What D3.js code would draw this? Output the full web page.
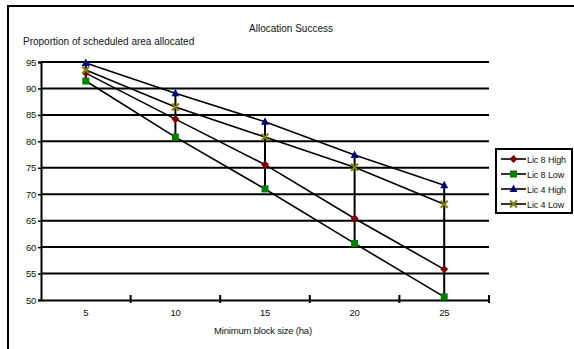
<!DOCTYPE html>
<html>
<head>
<meta charset="utf-8">
<script src="https://cdnjs.cloudflare.com/ajax/libs/d3/7.8.5/d3.min.js"></script>
<style>
  body { margin: 0; background: #fff; }
  svg { display: block; font-family: "Liberation Sans", Arial, sans-serif; }
</style>
</head>
<body>
<div id="chart"></div>
<script>
var categories = [5, 10, 15, 20, 25];
var yTicks = [50, 55, 60, 65, 70, 75, 80, 85, 90, 95];
var seriesNames = ["Lic 8 High", "Lic 8 Low", "Lic 4 High", "Lic 4 Low"];
var lic8High = [92.9, 84.2, 75.6, 65.4, 55.8];
var lic8Low = [91.4, 80.8, 71.0, 60.7, 50.6];
var lic4High = [94.8, 89.1, 83.7, 77.4, 71.7];
var lic4Low = [93.5, 86.5, 80.8, 75.1, 68.1];

var seriesValues = [lic8High, lic8Low, lic4High, lic4Low];
var colors = ["#800000", "#008000", "#000080", "#808000"];

var width = 574, height = 349;
var plot = { left: 41, right: 489, top: 62, bottom: 300 };

var svg = d3.select("#chart")
    .append("svg")
        .attr("width", width)
        .attr("height", height);

// outer frame, clipped on right and bottom by the window
svg.append("rect")
    .attr("x", 8)
    .attr("y", 6)
    .attr("width", 600)
    .attr("height", 400)
    .style("fill", "none")
    .style("stroke", "black")
    .style("stroke-width", 2);

var x = d3.scaleBand().domain(categories).range([plot.left, plot.right]).padding(0);
var y = d3.scaleLinear().domain([50, 95]).range([plot.bottom, plot.top]);

// gridlines
svg.append("g").selectAll("line")
    .data(yTicks.slice(1))
    .enter()
    .append("line")
    .attr("x1", plot.left)
    .attr("x2", plot.right)
    .attr("y1", function(d) { return y(d); })
    .attr("y2", function(d) { return y(d); })
    .style("stroke", "black")
    .style("stroke-width", 2);

// y axis
var yAxis = svg.append("g")
    .attr("transform", "translate(" + plot.left + ",0)")
    .call(d3.axisLeft(y).tickValues(yTicks).tickSize(3).tickPadding(2));
yAxis.select(".domain").style("stroke-width", 2);
yAxis.selectAll(".tick line").style("stroke-width", 1.5);
yAxis.selectAll("text").attr("font-size", "9.5px").attr("font-family", "Liberation Sans, Arial, sans-serif").attr("letter-spacing", "-0.3px").attr("fill", "#111");

// x axis
var xAxis = svg.append("g")
    .attr("transform", "translate(0," + plot.bottom + ")")
    .call(d3.axisBottom(x).tickSize(0).tickPadding(9));
xAxis.select(".domain").style("stroke-width", 2);
xAxis.selectAll("text").attr("font-size", "9.5px").attr("font-family", "Liberation Sans, Arial, sans-serif").attr("letter-spacing", "-0.3px").attr("fill", "#111");

var bounds = categories.map(function(c) { return x(c) + x.step(); });
svg.append("g").selectAll("line")
    .data(bounds)
    .enter()
    .append("line")
    .attr("x1", function(d) { return d; })
    .attr("x2", function(d) { return d; })
    .attr("y1", plot.bottom - 5)
    .attr("y2", plot.bottom + 3)
    .style("stroke", "black")
    .style("stroke-width", 2);

// high-low lines
var hiLo = svg.append("g");
hiLo.selectAll("line")
    .data(categories)
    .enter()
    .append("line")
    .attr("x1", function(d) { return x(d) + x.bandwidth() / 2; })
    .attr("x2", function(d) { return x(d) + x.bandwidth() / 2; })
    .attr("y1", function(d, i) { return y(d3.max(seriesValues, function(s) { return s[i]; })); })
    .attr("y2", function(d, i) { return y(d3.min(seriesValues, function(s) { return s[i]; })); })
    .style("stroke", "black")
    .style("stroke-width", 2);

// series lines
var line = d3.line()
    .x(function(d, i) { return x(categories[i]) + x.bandwidth() / 2; })
    .y(function(d) { return y(d); });

svg.append("g").selectAll("path")
    .data(seriesValues)
    .enter()
    .append("path")
    .attr("d", line)
    .style("fill", "none")
    .style("stroke", "black")
    .style("stroke-width", 1.6);

// markers
var markerPaths = [
    "M0,-4L4,0L0,4L-4,0Z",
    "M-3.5,-3.5H3.5V3.5H-3.5Z",
    "M0,-4.5L4,3L-4,3Z",
    "M-3.5,-3.5L3.5,3.5M-3.5,3.5L3.5,-3.5"
];
var drawMarker = function(sel, k) {
    var p = sel.append("path").attr("d", markerPaths[k]);
    if (k === 3) {
        p.style("stroke", colors[k]).style("stroke-width", 2).style("fill", "none");
    } else {
        p.style("fill", colors[k]);
    }
};

seriesValues.forEach(function(vals, k) {
    var g = svg.append("g");
    vals.forEach(function(v, i) {
        var m = g.append("g")
            .attr("transform", "translate(" + (x(categories[i]) + x.bandwidth() / 2) + "," + y(v) + ")");
        drawMarker(m, k);
    });
});

// titles
svg.append("text")
    .attr("x", 291)
    .attr("y", 32)
    .style("text-anchor", "middle")
    .attr("font-size", "10px")
    .attr("fill", "#111")
    .text("Allocation Success");

svg.append("text")
    .attr("x", 23)
    .attr("y", 45)
    .attr("font-size", "10px")
    .attr("fill", "#111")
    .text("Proportion of scheduled area allocated");

svg.append("text")
    .attr("x", (plot.left + plot.right) / 2 - 2)
    .attr("y", 334)
    .style("text-anchor", "middle")
    .attr("font-size", "9.5px")
    .attr("letter-spacing", "-0.2px")
    .attr("fill", "#111")
    .text("Minimum block size (ha)");

// legend
var legend = svg.append("g");
legend.append("rect")
    .attr("x", 496)
    .attr("y", 149)
    .attr("width", 76)
    .attr("height", 64)
    .style("fill", "white")
    .style("stroke", "black")
    .style("stroke-width", 2);

seriesNames.forEach(function(name, k) {
    var ly = 159 + k * 15;
    legend.append("line")
        .attr("x1", 501)
        .attr("x2", 526)
        .attr("y1", ly)
        .attr("y2", ly)
        .style("stroke", "black")
        .style("stroke-width", 1.6);
    var m = legend.append("g").attr("transform", "translate(513.5," + ly + ")");
    drawMarker(m, k);
    legend.append("text")
        .attr("x", 527)
        .attr("y", ly + 3.5)
        .attr("font-size", "9px")
        .attr("letter-spacing", "-0.1px")
        .attr("fill", "#111")
        .text(name);
});
</script>
</body>
</html>
